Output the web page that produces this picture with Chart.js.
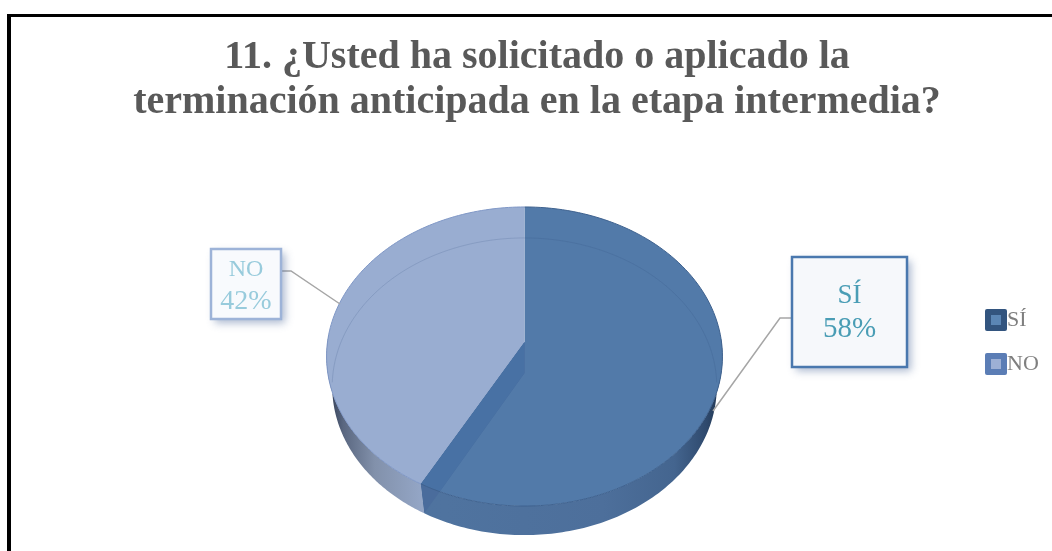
<!DOCTYPE html>
<html lang="es">
<head>
<meta charset="utf-8">
<style>html,body{margin:0;padding:0;background:#fff}canvas{display:block}</style>
<script src="https://cdn.jsdelivr.net/npm/chart.js@4/dist/chart.umd.min.js"></script>
</head>
<body>
<canvas id="c" width="1052" height="551"></canvas>
<script>
const categories = ['SÍ', 'NO'];
const values = [58, 42];
const titleLines = ['11. ¿Usted ha solicitado o aplicado la', 'terminación anticipada en la etapa intermedia?'];
const sliceColors = ['#527aa9', '#99add1'];

const FONT = '"Liberation Serif", serif';
const K_TOP = -0.097, YS_TOP = 0.752;
const DEPTH = 31, XS_BOT = 0.972, YS_BOT = 0.748, K_BOT = -0.091;

function proj(el, th, bottom) {
  const k = bottom ? K_BOT : K_TOP, ys = bottom ? YS_BOT : YS_TOP, xs = bottom ? XS_BOT : 1;
  const c = Math.cos(th), s = Math.sin(th), d = 1 + k * s;
  return [el.x + el.outerRadius * xs * c / d, el.y + (bottom ? DEPTH : 0) + el.outerRadius * ys * s / d];
}
function trace(ctx, el, a, b, bottom, first) {
  const n = 120;
  for (let i = 0; i <= n; i++) {
    const p = proj(el, a + (b - a) * i / n, bottom);
    if (i === 0 && first) ctx.moveTo(p[0], p[1]); else ctx.lineTo(p[0], p[1]);
  }
}
function sideFace(ctx, el, a, b, stops) {
  const g = ctx.createLinearGradient(el.x - el.outerRadius, 0, el.x + el.outerRadius, 0);
  stops.forEach(s => g.addColorStop(s[0], s[1]));
  ctx.beginPath();
  trace(ctx, el, a, b, false, true);
  trace(ctx, el, b, a, true, false);
  ctx.closePath();
  ctx.fillStyle = g;
  ctx.fill();
}
const pie3d = {
  id: 'pie3d',
  afterLayout(chart) {
    chart.titleBlock.left = 60;
    chart.titleBlock.right = 1014;
  },
  beforeDraw(chart) {
    const ctx = chart.ctx;
    ctx.save();
    ctx.fillStyle = '#000';
    ctx.fillRect(7, 14, 1045, 3);
    ctx.fillRect(7, 14, 4, 537);
    ctx.restore();
  },
  beforeDatasetsDraw(chart) {
    const ctx = chart.ctx;
    const arcs = chart.getDatasetMeta(0).data;
    const si = arcs[0], no = arcs[1];
    const apex = [si.x, si.y], boundary = si.endAngle;
    ctx.save();
    // front walls
    sideFace(ctx, si, boundary, -0.03, [[0, '#4e729f'], [0.3, '#4f739f'], [0.7, '#4d6f9b'], [0.88, '#44658f'], [0.96, '#2f4a6e'], [1, '#20344f']]);
    sideFace(ctx, no, boundary, Math.PI + 0.05, [[0, '#2e3a52'], [0.04, '#5a6780'], [0.12, '#8291ab'], [0.24, '#94a6c6'], [1, '#94a6c6']]);
    // top faces
    arcs.forEach(el => {
      ctx.beginPath();
      ctx.moveTo(apex[0], apex[1]);
      trace(ctx, el, el.startAngle, el.endAngle, false, false);
      ctx.closePath();
      ctx.fillStyle = el.options.backgroundColor;
      ctx.fill();
    });
    // see-through back ellipse
    ctx.save();
    ctx.beginPath();
    trace(ctx, si, 0, Math.PI * 2, false, true);
    ctx.clip();
    ctx.beginPath();
    trace(ctx, si, Math.PI * 0.02, -Math.PI * 1.02, true, true);
    ctx.strokeStyle = 'rgba(50,80,125,0.17)';
    ctx.lineWidth = 1;
    ctx.stroke();
    ctx.restore();
    // inner cut wall
    const bt = proj(si, boundary, false), bb = proj(si, boundary, true);
    const wall = () => {
      ctx.beginPath();
      ctx.moveTo(apex[0], apex[1]);
      ctx.lineTo(apex[0], apex[1] + DEPTH);
      ctx.lineTo(bb[0], bb[1]);
      ctx.lineTo(bt[0], bt[1]);
      ctx.closePath();
    };
    wall();
    ctx.fillStyle = '#4a6c9c';
    ctx.fill();
    ctx.save();
    ctx.beginPath();
    trace(ctx, si, 0, Math.PI * 2, false, true);
    ctx.clip();
    wall();
    ctx.fillStyle = '#4871a4';
    ctx.fill();
    ctx.restore();
    // rims
    ctx.lineWidth = 1;
    ctx.beginPath();
    trace(ctx, si, si.startAngle, si.endAngle, false, true);
    ctx.strokeStyle = '#3f628f';
    ctx.stroke();
    ctx.beginPath();
    trace(ctx, no, no.startAngle, no.endAngle, false, true);
    ctx.strokeStyle = '#7f97c6';
    ctx.stroke();
    ctx.restore();
    return false;
  },
  afterDraw(chart) {
    const ctx = chart.ctx;
    ctx.save();
    // leader lines
    ctx.strokeStyle = '#a6a6a6';
    ctx.lineWidth = 1.5;
    ctx.beginPath(); ctx.moveTo(281, 271); ctx.lineTo(291, 271); ctx.lineTo(340, 304); ctx.stroke();
    ctx.beginPath(); ctx.moveTo(791, 318); ctx.lineTo(780, 318); ctx.lineTo(713, 411); ctx.stroke();
    // callouts
    const box = (x, y, w, h, border, fill, color, s1, s2, idx, y1, y2) => {
      ctx.save();
      ctx.shadowColor = 'rgba(70,100,150,0.45)';
      ctx.shadowBlur = 8;
      ctx.shadowOffsetX = 4;
      ctx.shadowOffsetY = 4;
      ctx.fillStyle = fill;
      ctx.fillRect(x, y, w, h);
      ctx.restore();
      ctx.strokeStyle = border;
      ctx.lineWidth = 2.5;
      ctx.strokeRect(x, y, w, h);
      ctx.fillStyle = color;
      ctx.textAlign = 'center';
      ctx.textBaseline = 'middle';
      ctx.font = s1 + 'px ' + FONT;
      ctx.fillText(categories[idx], x + w / 2, y1);
      ctx.font = s2 + 'px ' + FONT;
      ctx.fillText(values[idx] + '%', x + w / 2, y2);
    };
    box(792, 257, 115, 110, '#4a78ae', '#f6f8fb', '#4a9db5', 27, 29, 0, 296, 329);
    box(211, 249, 70, 70, '#9db3d8', '#f8fafd', '#98cbdc', 24, 28, 1, 270, 302);
    // legend
    const legend = (y, outer, inner, idx, ty) => {
      ctx.fillStyle = outer;
      ctx.beginPath(); ctx.roundRect(985, y, 22, 22, 2); ctx.fill();
      ctx.fillStyle = inner;
      ctx.fillRect(991, y + 6, 10, 10);
      ctx.fillStyle = '#7f7f7f';
      ctx.font = '22px ' + FONT;
      ctx.textAlign = 'left';
      ctx.textBaseline = 'middle';
      ctx.fillText(categories[idx], 1007, ty);
    };
    legend(309, '#33557f', '#5b86b5', 0, 320);
    legend(353, '#5b7db5', '#9db0d5', 1, 364);
    ctx.restore();
  }
};
new Chart(document.getElementById('c'), {
  type: 'pie',
  data: {
    labels: categories,
    datasets: [{ data: values, backgroundColor: sliceColors, borderWidth: 0 }]
  },
  plugins: [pie3d],
  options: {
    responsive: false,
    animation: false,
    layout: { padding: { left: 327.5, right: 330.5, top: 0, bottom: 12 } },
    plugins: {
      legend: { display: false },
      tooltip: { enabled: false },
      title: {
        display: true,
        text: titleLines,
        color: '#595959',
        padding: { top: 35, bottom: 20 },
        font: { family: FONT, size: 40, weight: 'bold', lineHeight: '45px' }
      }
    }
  }
});
</script>
</body>
</html>
